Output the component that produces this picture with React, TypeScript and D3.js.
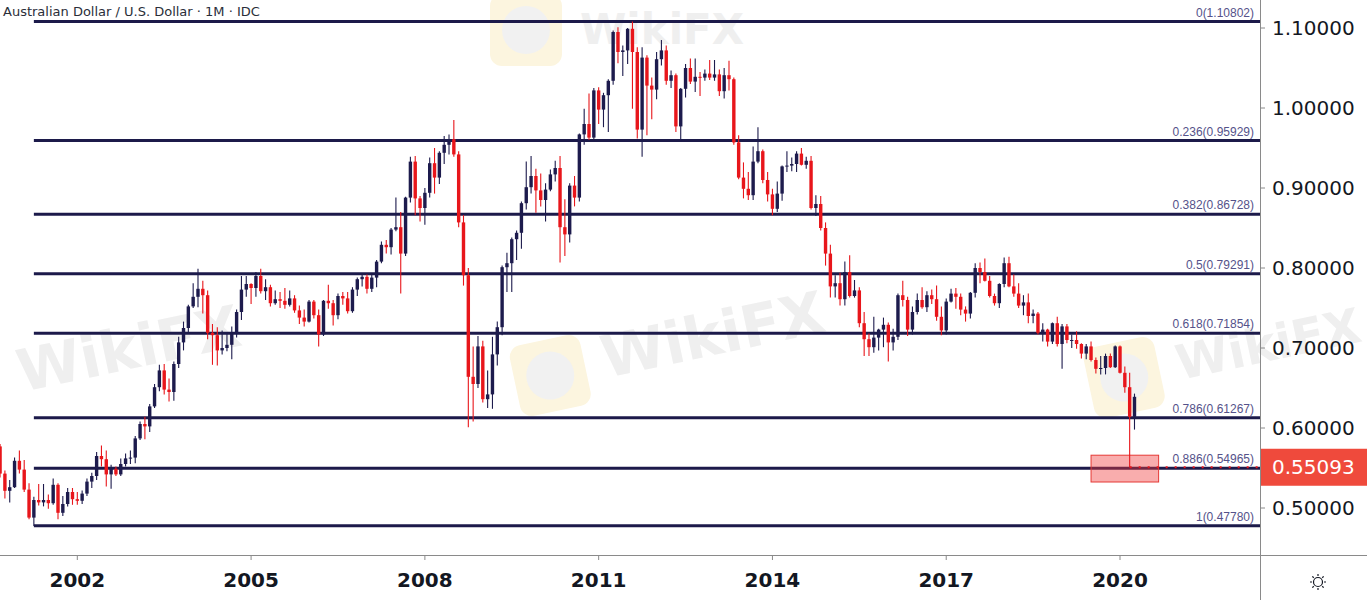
import { useRef, useEffect } from 'react';
import * as d3 from 'd3';

const WIDTH = 1367;
const HEIGHT = 600;

// one candle per month, first = Sep 2000, last = Apr 2020
const FIRST_YEAR = 2000;
const FIRST_MONTH = 8; // September (0-based)
const FIRST_OPEN = 0.577; // Aug 2000 close

const closes = [
  0.5430, 0.5215, 0.5260, 0.5590,
  0.5480, 0.5230, 0.4880, 0.5100, 0.5070, 0.5100, 0.5060, 0.5290, 0.4940, 0.5050, 0.5200, 0.5110,
  0.5090, 0.5180, 0.5330, 0.5400, 0.5650, 0.5610, 0.5420, 0.5490, 0.5420, 0.5550, 0.5620, 0.5630,
  0.5870, 0.6050, 0.6020, 0.6270, 0.6510, 0.6720, 0.6480, 0.6450, 0.6800, 0.7070, 0.7250, 0.7520,
  0.7640, 0.7740, 0.7660, 0.7190, 0.7160, 0.6970, 0.7000, 0.7040, 0.7180, 0.7450, 0.7730, 0.7800,
  0.7750, 0.7900, 0.7710, 0.7760, 0.7560, 0.7610, 0.7590, 0.7540, 0.7620, 0.7470, 0.7380, 0.7330,
  0.7580, 0.7410, 0.7170, 0.7590, 0.7560, 0.7410, 0.7650, 0.7620, 0.7460, 0.7730, 0.7860, 0.7890,
  0.7740, 0.7880, 0.8080, 0.8290, 0.8260, 0.8480, 0.8510, 0.8180, 0.8880, 0.9330, 0.8870, 0.8750,
  0.8940, 0.9310, 0.9130, 0.9440, 0.9540, 0.9610, 0.9420, 0.8570, 0.7910, 0.6640, 0.6550, 0.7020,
  0.6360, 0.6420, 0.6920, 0.7260, 0.8010, 0.8060, 0.8360, 0.8440, 0.8810, 0.9010, 0.9150, 0.8970,
  0.8850, 0.8980, 0.9170, 0.9250, 0.8510, 0.8420, 0.9030, 0.8880, 0.9670, 0.9800, 0.9630, 1.0220,
  0.9980, 1.0160, 1.0340, 1.0950, 1.0700, 1.0720, 1.0990, 1.0700, 0.9730, 1.0630, 1.0280, 1.0230,
  1.0610, 1.0720, 1.0340, 1.0410, 0.9770, 1.0240, 1.0500, 1.0330, 1.0390, 1.0380, 1.0430, 1.0380,
  1.0420, 1.0210, 1.0410, 1.0360, 0.9570, 0.9130, 0.8990, 0.8910, 0.9330, 0.9460, 0.9100, 0.8920,
  0.8740, 0.8930, 0.9270, 0.9280, 0.9300, 0.9430, 0.9290, 0.9340, 0.8750, 0.8800, 0.8500, 0.8180,
  0.7770, 0.7810, 0.7610, 0.7950, 0.7650, 0.7720, 0.7310, 0.7110, 0.7010, 0.7130, 0.7230, 0.7290,
  0.7070, 0.7140, 0.7660, 0.7600, 0.7230, 0.7450, 0.7600, 0.7510, 0.7660, 0.7610, 0.7390, 0.7220,
  0.7580, 0.7680, 0.7640, 0.7480, 0.7430, 0.7690, 0.8000, 0.7950, 0.7840, 0.7650, 0.7560, 0.7800,
  0.8060, 0.7770, 0.7680, 0.7530, 0.7570, 0.7400, 0.7430, 0.7190, 0.7230, 0.7080, 0.7310, 0.7050,
  0.7270, 0.7100, 0.7100, 0.7050, 0.6930, 0.7020, 0.6850, 0.6740, 0.6750, 0.6900, 0.6760, 0.7020,
  0.6690, 0.6510, 0.6140, 0.6390,
];

const highs = [
  0.5800, 0.5470, 0.5350, 0.5630,
  0.5720, 0.5600, 0.5310, 0.5140, 0.5300, 0.5300, 0.5170, 0.5370, 0.5310, 0.5150, 0.5250, 0.5250,
  0.5200, 0.5220, 0.5370, 0.5440, 0.5700, 0.5780, 0.5720, 0.5540, 0.5520, 0.5620, 0.5680, 0.5720,
  0.5900, 0.6080, 0.6140, 0.6300, 0.6550, 0.6790, 0.6800, 0.6620, 0.6830, 0.7140, 0.7330, 0.7540,
  0.7810, 0.7990, 0.7840, 0.7720, 0.7300, 0.7260, 0.7220, 0.7200, 0.7270, 0.7480, 0.7900, 0.7900,
  0.7810, 0.7950, 0.7990, 0.7860, 0.7790, 0.7720, 0.7700, 0.7750, 0.7720, 0.7660, 0.7530, 0.7480,
  0.7600, 0.7600, 0.7480, 0.7600, 0.7790, 0.7600, 0.7680, 0.7700, 0.7700, 0.7760, 0.7880, 0.7920,
  0.7920, 0.7930, 0.8100, 0.8330, 0.8350, 0.8500, 0.8880, 0.8700, 0.8890, 0.9390, 0.9400, 0.8900,
  0.9000, 0.9380, 0.9500, 0.9460, 0.9650, 0.9670, 0.9850, 0.9460, 0.8660, 0.8000, 0.7020, 0.7150,
  0.7090, 0.6720, 0.7140, 0.7330, 0.8030, 0.8190, 0.8380, 0.8470, 0.8830, 0.9330, 0.9400, 0.9240,
  0.9180, 0.9060, 0.9230, 0.9340, 0.9400, 0.8860, 0.9060, 0.9150, 0.9680, 0.9990, 1.0180, 1.0250,
  1.0260, 1.0190, 1.0360, 1.0970, 1.1010, 1.0780, 1.1000, 1.1080, 1.0760, 1.0760, 1.0660, 1.0380,
  1.0700, 1.0850, 1.0780, 1.0470, 1.0430, 1.0250, 1.0550, 1.0620, 1.0620, 1.0450, 1.0480, 1.0600,
  1.0600, 1.0480, 1.0500, 1.0590, 1.0380, 0.9660, 0.9320, 0.9200, 0.9520, 0.9760, 0.9480, 0.9200,
  0.8990, 0.9080, 0.9280, 0.9460, 0.9380, 0.9460, 0.9500, 0.9390, 0.9400, 0.8910, 0.8900, 0.8570,
  0.8290, 0.7910, 0.7940, 0.8080, 0.8160, 0.7850, 0.7760, 0.7450, 0.7180, 0.7390, 0.7240, 0.7380,
  0.7320, 0.7240, 0.7680, 0.7840, 0.7640, 0.7520, 0.7680, 0.7760, 0.7710, 0.7730, 0.7780, 0.7520,
  0.7620, 0.7740, 0.7750, 0.7680, 0.7520, 0.7700, 0.8060, 0.8070, 0.8120, 0.7900, 0.7680, 0.7810,
  0.8130, 0.8140, 0.7920, 0.7810, 0.7660, 0.7680, 0.7480, 0.7450, 0.7310, 0.7240, 0.7320, 0.7390,
  0.7300, 0.7300, 0.7170, 0.7210, 0.7060, 0.7050, 0.7080, 0.6880, 0.6900, 0.6930, 0.6930, 0.7030,
  0.7030, 0.6770, 0.6690, 0.6430,
];

const lows = [
  0.5380, 0.5120, 0.5070, 0.5250,
  0.5430, 0.5200, 0.4860, 0.4775, 0.5030, 0.5020, 0.4990, 0.5040, 0.4860, 0.4900, 0.5020, 0.5040,
  0.5040, 0.5050, 0.5150, 0.5250, 0.5350, 0.5520, 0.5270, 0.5240, 0.5400, 0.5400, 0.5520, 0.5550,
  0.5560, 0.5850, 0.5860, 0.5950, 0.6250, 0.6460, 0.6420, 0.6330, 0.6340, 0.6750, 0.6970, 0.7180,
  0.7500, 0.7510, 0.7430, 0.7110, 0.6790, 0.6780, 0.6920, 0.6960, 0.6860, 0.7130, 0.7350, 0.7640,
  0.7550, 0.7640, 0.7680, 0.7600, 0.7520, 0.7540, 0.7500, 0.7490, 0.7520, 0.7440, 0.7300, 0.7270,
  0.7320, 0.7370, 0.7020, 0.7150, 0.7490, 0.7280, 0.7360, 0.7540, 0.7430, 0.7440, 0.7650, 0.7770,
  0.7680, 0.7700, 0.7760, 0.8060, 0.8180, 0.8170, 0.8460, 0.7680, 0.8150, 0.8820, 0.8660, 0.8580,
  0.8540, 0.8880, 0.8930, 0.9050, 0.9300, 0.9420, 0.9390, 0.8510, 0.7780, 0.6010, 0.6080, 0.6500,
  0.6320, 0.6250, 0.6240, 0.6780, 0.7160, 0.7700, 0.7700, 0.8100, 0.8240, 0.8730, 0.8930, 0.8690,
  0.8770, 0.8580, 0.8960, 0.9080, 0.8070, 0.8150, 0.8320, 0.8770, 0.8830, 0.9540, 0.9600, 0.9610,
  0.9800, 0.9760, 0.9700, 1.0290, 1.0560, 1.0400, 1.0550, 0.9990, 0.9620, 0.9390, 0.9660, 0.9860,
  1.0110, 1.0530, 1.0290, 1.0250, 0.9700, 0.9580, 1.0130, 1.0300, 1.0200, 1.0150, 1.0340, 1.0350,
  1.0340, 1.0150, 1.0120, 1.0220, 0.9540, 0.9110, 0.8870, 0.8850, 0.8850, 0.9310, 0.9060, 0.8830,
  0.8660, 0.8700, 0.8840, 0.9200, 0.9210, 0.9200, 0.9280, 0.9240, 0.8730, 0.8650, 0.8470, 0.8030,
  0.7630, 0.7630, 0.7530, 0.7530, 0.7630, 0.7630, 0.7260, 0.6900, 0.6900, 0.6940, 0.6970, 0.7010,
  0.6830, 0.6970, 0.7100, 0.7520, 0.7150, 0.7170, 0.7420, 0.7490, 0.7450, 0.7550, 0.7340, 0.7160,
  0.7170, 0.7570, 0.7490, 0.7410, 0.7330, 0.7370, 0.7630, 0.7810, 0.7830, 0.7630, 0.7530, 0.7500,
  0.7760, 0.7760, 0.7640, 0.7500, 0.7410, 0.7310, 0.7310, 0.7170, 0.7080, 0.7020, 0.7050, 0.7020,
  0.6740, 0.7060, 0.7000, 0.6990, 0.6870, 0.6860, 0.6830, 0.6680, 0.6670, 0.6670, 0.6750, 0.6750,
  0.6680, 0.6440, 0.5509, 0.5980,
];

const yearTicks = [2002, 2005, 2008, 2011, 2014, 2017, 2020];
const priceTicks = [0.5, 0.6, 0.7, 0.8, 0.9, 1.0, 1.1];

// Fibonacci retracement of the Apr 2001 low -> 2011 high
const fibRatios = ['0', '0.236', '0.382', '0.5', '0.618', '0.786', '0.886', '1'];
const fibPrices = [1.10802, 0.95929, 0.86728, 0.79291, 0.71854, 0.61267, 0.54965, 0.4778];
const fibStart = { year: 2001, month: 3 };

// highlighted support zone and last price marker
const zone = { fromYear: 2019, fromMonth: 6, toYear: 2020, toMonth: 8, top: 0.566, bottom: 0.5325 };
const lastPrice = 0.55093;
const lastPriceFrom = { year: 2020, month: 2 };

const TITLE = 'Australian Dollar / U.S. Dollar · 1M · IDC';

const NAVY = '#1d1b4d';
const RED = '#e8161b';
const FONT = '"DejaVu Sans", Verdana, sans-serif';

function monthIndex(year: number, month: number) {
  return (year - FIRST_YEAR) * 12 + month - FIRST_MONTH;
}

export default function App() {
  const svgRef = useRef<SVGSVGElement>(null);

  useEffect(() => {
    if (!svgRef.current) return;
    const svg = d3.select(svgRef.current);
    svg.selectAll('*').remove();

    const plotW = 1260;
    const plotH = 555;

    const x = d3.scaleLinear().domain([-0.015, 261]).range([0, plotW]);
    const y = d3.scaleLinear().domain([0.44125, 1.135]).range([plotH, 0]);

    svg.append('rect').attr('width', WIDTH).attr('height', HEIGHT).attr('fill', '#fff');

    // faint WikiFX watermarks (kept inside the frame)
    const marks = [
      { x: 22, y: 392, size: 58, rot: -12, logo: false },
      { x: 606, y: 378, size: 58, rot: -12, logo: true },
      { x: 1180, y: 380, size: 48, rot: -12, logo: true },
      { x: 580, y: 44, size: 42, rot: 0, logo: true },
    ];
    const wm = svg.append('g');
    marks.forEach((m) => {
      const g = wm.append('g').attr('transform', 'translate(' + m.x + ',' + m.y + ') rotate(' + m.rot + ')');
      if (m.logo) {
        g.append('rect')
          .attr('x', -90).attr('y', -50).attr('width', 72).attr('height', 72).attr('rx', 12)
          .attr('fill', '#fcf5df');
        g.append('circle').attr('cx', -54).attr('cy', -14).attr('r', 24).attr('fill', '#f1f1f1');
      }
      g.append('text')
        .attr('x', 0)
        .attr('y', 0)
        .attr('font-family', FONT)
        .attr('font-weight', 'bold')
        .attr('font-size', m.size)
        .attr('fill', '#efefef')
        .text('WikiFX');
    });

    svg.append('defs').append('clipPath').attr('id', 'plot-clip')
      .append('rect').attr('width', plotW).attr('height', plotH);

    const plot = svg.append('g').attr('clip-path', 'url(#plot-clip)');

    // fib levels
    const fibX0 = x(monthIndex(fibStart.year, fibStart.month));
    fibPrices.forEach((p, i) => {
      plot.append('line')
        .attr('x1', fibX0).attr('x2', plotW)
        .attr('y1', y(p)).attr('y2', y(p))
        .attr('stroke', '#1c1a4a').attr('stroke-width', 3);
      plot.append('text')
        .attr('x', plotW - 6)
        .attr('y', y(p) - 5)
        .attr('text-anchor', 'end')
        .attr('font-family', '"Liberation Sans", Arial, sans-serif')
        .attr('font-size', 12)
        .attr('fill', '#55528a')
        .text(fibRatios[i] + '(' + p.toFixed(5) + ')');
    });

    // zone box
    const zx0 = x(monthIndex(zone.fromYear, zone.fromMonth));
    const zx1 = x(monthIndex(zone.toYear, zone.toMonth));
    plot.append('rect')
      .attr('x', zx0).attr('y', y(zone.top))
      .attr('width', zx1 - zx0).attr('height', y(zone.bottom) - y(zone.top))
      .attr('fill', 'rgba(240, 60, 60, 0.42)')
      .attr('stroke', '#e53935').attr('stroke-width', 1);

    // candles
    const candles = closes.map((c, i) => ({
      i,
      o: i === 0 ? FIRST_OPEN : closes[i - 1],
      h: highs[i],
      l: lows[i],
      c,
    }));
    const bodyW = 3.4;
    const cg = plot.append('g');
    candles.forEach((d) => {
      const color = d.c >= d.o ? NAVY : RED;
      cg.append('line')
        .attr('x1', x(d.i)).attr('x2', x(d.i))
        .attr('y1', y(d.h)).attr('y2', y(d.l))
        .attr('stroke', color).attr('stroke-width', 1.1);
      const top = y(Math.max(d.o, d.c));
      const bot = y(Math.min(d.o, d.c));
      cg.append('rect')
        .attr('x', x(d.i) - bodyW / 2).attr('y', top)
        .attr('width', bodyW).attr('height', Math.max(1, bot - top))
        .attr('fill', color);
    });

    // last price dotted line
    plot.append('line')
      .attr('x1', x(monthIndex(lastPriceFrom.year, lastPriceFrom.month)))
      .attr('x2', plotW)
      .attr('y1', y(lastPrice)).attr('y2', y(lastPrice))
      .attr('stroke', RED).attr('stroke-width', 2)
      .attr('stroke-dasharray', '2,7');

    // axes frame
    svg.append('line').attr('x1', plotW + 0.5).attr('x2', plotW + 0.5).attr('y1', 0).attr('y2', HEIGHT)
      .attr('stroke', '#8a8a8a').attr('stroke-width', 1);
    svg.append('line').attr('x1', 0).attr('x2', WIDTH).attr('y1', plotH + 0.5).attr('y2', plotH + 0.5)
      .attr('stroke', '#8a8a8a').attr('stroke-width', 1);

    // right price axis
    const yAxis = svg.append('g');
    priceTicks.forEach((t) => {
      yAxis.append('line')
        .attr('x1', plotW).attr('x2', plotW + 5)
        .attr('y1', y(t)).attr('y2', y(t))
        .attr('stroke', '#8a8a8a');
      yAxis.append('text')
        .attr('x', plotW + 12)
        .attr('y', y(t))
        .attr('dominant-baseline', 'central')
        .attr('font-family', FONT)
        .attr('font-size', 20)
        .attr('fill', '#131722')
        .text(t.toFixed(5));
    });

    // last price label
    const ly = y(lastPrice);
    svg.append('rect')
      .attr('x', plotW + 1).attr('y', ly - 18.5)
      .attr('width', WIDTH - plotW).attr('height', 37)
      .attr('fill', '#ef4a3c');
    svg.append('text')
      .attr('x', plotW + 12)
      .attr('y', ly)
      .attr('dominant-baseline', 'central')
      .attr('font-family', FONT)
      .attr('font-size', 20)
      .attr('fill', '#fff')
      .text(lastPrice.toFixed(5));

    // bottom time axis
    const xAxis = svg.append('g');
    yearTicks.forEach((yr) => {
      const tx = x(monthIndex(yr, 0));
      xAxis.append('line')
        .attr('x1', tx).attr('x2', tx)
        .attr('y1', plotH).attr('y2', plotH + 5)
        .attr('stroke', '#8a8a8a');
      xAxis.append('text')
        .attr('x', tx)
        .attr('y', 580)
        .attr('text-anchor', 'middle')
        .attr('dominant-baseline', 'central')
        .attr('font-family', FONT)
        .attr('font-weight', 'bold')
        .attr('font-size', 20)
        .attr('fill', '#131722')
        .text(String(yr));
    });

    // settings icon
    const gear = svg.append('g').attr('transform', 'translate(1318,582)');
    gear.append('circle').attr('r', 4.5).attr('fill', 'none').attr('stroke', '#131722').attr('stroke-width', 1.2);
    d3.range(8).forEach((k) => {
      const a = (k * Math.PI) / 4;
      gear.append('line')
        .attr('x1', Math.cos(a) * 6).attr('y1', Math.sin(a) * 6)
        .attr('x2', Math.cos(a) * 8).attr('y2', Math.sin(a) * 8)
        .attr('stroke', '#131722').attr('stroke-width', 1.2);
    });

    // title
    svg.append('text')
      .attr('x', 3)
      .attr('y', 11)
      .attr('dominant-baseline', 'central')
      .attr('font-family', FONT)
      .attr('font-size', 13)
      .attr('fill', '#2a2e39')
      .text(TITLE);
  }, []);

  return (
    <div style={{ position: 'fixed', left: 0, top: 0, width: WIDTH, height: HEIGHT, background: '#fff' }}>
      <svg ref={svgRef} width={WIDTH} height={HEIGHT} viewBox={'0 0 ' + WIDTH + ' ' + HEIGHT} style={{ display: 'block' }} />
    </div>
  );
}
